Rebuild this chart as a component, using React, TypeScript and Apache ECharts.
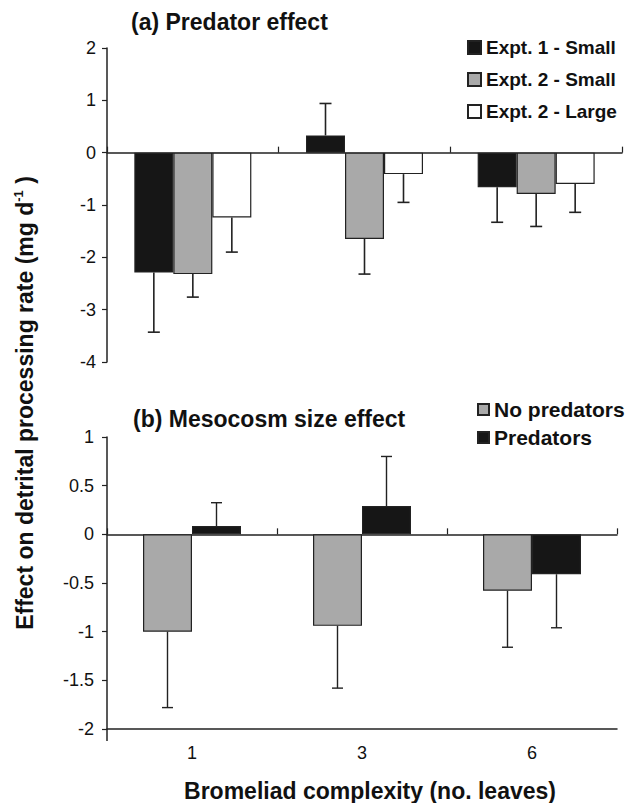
import React, { useEffect, useRef } from 'react';
import * as echarts from 'echarts';

const categories = ['1', '3', '6'];

// (a) Predator effect
const expt1Small = [-2.29, 0.33, -0.66];
const expt1SmallErr = [1.14, 0.61, 0.67];
const expt2Small = [-2.32, -1.65, -0.79];
const expt2SmallErr = [0.44, 0.67, 0.62];
const expt2Large = [-1.24, -0.41, -0.6];
const expt2LargeErr = [0.66, 0.54, 0.54];

// (b) Mesocosm size effect
const noPredators = [-1.0, -0.94, -0.58];
const noPredatorsErr = [0.78, 0.64, 0.58];
const predators = [0.085, 0.29, -0.41];
const predatorsErr = [0.24, 0.51, 0.55];

const topTicks = [-4, -3, -2, -1, 0, 1, 2];
const bottomTicks = [-2, -1.5, -1, -0.5, 0, 0.5, 1];

const FONT = '"Liberation Sans", Arial, Helvetica, sans-serif';
const BLACK = '#161616';
const GRAY = '#a9a9a9';
const WHITE = '#ffffff';
const EDGE = '#222222';

const TOP_BAR_W = 39;
const BOT_BAR_W = 49;

function errSeries(
  name: string,
  vals: number[],
  errs: number[],
  xAxisIndex: number,
  yAxisIndex: number,
  slot: number,
  nSlots: number,
  barW: number,
  lw: number,
  cap: number
) {
  return {
    type: 'custom',
    name,
    xAxisIndex,
    yAxisIndex,
    z: 5,
    silent: true,
    encode: { x: 0, y: 1 },
    data: vals.map((v, i) => [i, v, errs[i]]),
    renderItem: (params: any, api: any) => {
      const idx = api.value(0);
      const v = api.value(1);
      const e = api.value(2);
      const sign = v >= 0 ? 1 : -1;
      const p0 = api.coord([idx, v]);
      const p1 = api.coord([idx, v + sign * e]);
      const dx = (slot - (nSlots - 1) / 2) * barW;
      const x = p0[0] + dx;
      const style = { stroke: EDGE, lineWidth: lw };
      return {
        type: 'group',
        children: [
          { type: 'line', shape: { x1: x, y1: p0[1], x2: x, y2: p1[1] }, style },
          { type: 'line', shape: { x1: x - cap / 2, y1: p1[1], x2: x + cap / 2, y2: p1[1] }, style },
        ],
      };
    },
  };
}

export default function App() {
  const ref = useRef<HTMLDivElement>(null);

  useEffect(() => {
    if (!ref.current) return;
    const chart = echarts.init(ref.current, undefined, { renderer: 'svg' });

    const axisLine = { show: true, lineStyle: { color: EDGE, width: 1.5 } };
    const tickLabel = { color: '#111', fontSize: 18, fontFamily: FONT };

    const option: any = {
      animation: false,
      backgroundColor: '#ffffff',
      title: [
        {
          text: '(a) Predator effect',
          left: 131,
          top: 10,
          padding: 0,
          textStyle: { fontFamily: FONT, fontSize: 23, fontWeight: 'bold', color: '#111' },
        },
        {
          text: '(b) Mesocosm size effect',
          left: 133,
          top: 407,
          padding: 0,
          textStyle: { fontFamily: FONT, fontSize: 23, fontWeight: 'bold', color: '#111' },
        },
      ],
      legend: [
        {
          data: ['Expt. 1 - Small', 'Expt. 2 - Small', 'Expt. 2 - Large'],
          orient: 'vertical',
          left: 467,
          top: 38,
          padding: 0,
          itemWidth: 13,
          itemHeight: 13,
          itemGap: 13,
          icon: 'rect',
          textStyle: { fontFamily: FONT, fontSize: 19, fontWeight: 'bold', color: '#111' },
        },
        {
          data: ['No predators', 'Predators'],
          orient: 'vertical',
          left: 477,
          top: 399,
          padding: 0,
          itemWidth: 11,
          itemHeight: 11,
          itemGap: 7,
          icon: 'rect',
          textStyle: { fontFamily: FONT, fontSize: 21, fontWeight: 'bold', color: '#111' },
        },
      ],
      grid: [
        { left: 107, top: 48, width: 515, height: 314, outerBoundsMode: 'none', containLabel: false },
        { left: 107, top: 437, width: 510, height: 292, outerBoundsMode: 'none', containLabel: false },
      ],
      xAxis: [
        {
          type: 'category',
          gridIndex: 0,
          data: categories,
          axisLine: { ...axisLine, onZero: true },
          axisTick: { show: true, inside: true, length: 6, lineStyle: { color: EDGE, width: 1.2 } },
          axisLabel: { show: false },
          splitLine: { show: false },
        },
        {
          type: 'category',
          gridIndex: 1,
          data: categories,
          axisLine: { ...axisLine, onZero: true },
          axisTick: { show: true, inside: true, length: 6, lineStyle: { color: EDGE, width: 1.2 } },
          axisLabel: { show: false },
          splitLine: { show: false },
        },
        {
          type: 'category',
          gridIndex: 1,
          position: 'bottom',
          data: categories,
          axisLine: { ...axisLine, onZero: false },
          axisTick: { show: false },
          axisLabel: { ...tickLabel, margin: 15 },
          splitLine: { show: false },
          name: 'Bromeliad complexity (no. leaves)',
          nameLocation: 'middle',
          nameGap: 50,
          nameTextStyle: {
            fontFamily: FONT,
            fontSize: 23,
            fontWeight: 'bold',
            color: '#111',
            padding: [0, 0, 0, 16],
          },
        },
      ],
      yAxis: [
        {
          type: 'value',
          gridIndex: 0,
          min: -4,
          max: 2,
          interval: 1,
          axisLine: { ...axisLine, onZero: false },
          axisTick: { show: true, length: 5, lineStyle: { color: EDGE, width: 1.2 } },
          axisLabel: { ...tickLabel, margin: 11, formatter: (v: number) => (topTicks.includes(v) ? String(v) : '') },
          splitLine: { show: false },
        },
        {
          type: 'value',
          gridIndex: 1,
          min: -2,
          max: 1,
          interval: 0.5,
          axisLine: { ...axisLine, onZero: false },
          axisTick: { show: true, length: 5, lineStyle: { color: EDGE, width: 1.2 } },
          axisLabel: { ...tickLabel, margin: 13, formatter: (v: number) => (bottomTicks.includes(v) ? String(v) : '') },
          splitLine: { show: false },
        },
      ],
      graphic: [
        {
          type: 'text',
          x: 25,
          y: 403,
          rotation: Math.PI / 2,
          style: {
            text: '{a|Effect on detrital processing rate (mg d}{s|-1}{a| )}',
            align: 'center',
            verticalAlign: 'middle',
            rich: {
              a: { fontFamily: FONT, fontSize: 23, fontWeight: 'bold', fill: '#111' },
              s: { fontFamily: FONT, fontSize: 13, fontWeight: 'bold', fill: '#111', verticalAlign: 'top', lineHeight: 26 },
            },
          },
        },
        {
          type: 'line',
          shape: { x1: 107, y1: 729, x2: 107, y2: 741 },
          style: { stroke: EDGE, lineWidth: 1.5 },
        },
      ],
      series: [
        {
          type: 'bar',
          name: 'Expt. 1 - Small',
          xAxisIndex: 0,
          yAxisIndex: 0,
          data: expt1Small,
          barWidth: TOP_BAR_W,
          barGap: '0%',
          itemStyle: { color: BLACK, borderColor: EDGE, borderWidth: 1.2 },
        },
        {
          type: 'bar',
          name: 'Expt. 2 - Small',
          xAxisIndex: 0,
          yAxisIndex: 0,
          data: expt2Small,
          barWidth: TOP_BAR_W,
          barGap: '0%',
          itemStyle: { color: GRAY, borderColor: EDGE, borderWidth: 1.2 },
        },
        {
          type: 'bar',
          name: 'Expt. 2 - Large',
          xAxisIndex: 0,
          yAxisIndex: 0,
          data: expt2Large,
          barWidth: TOP_BAR_W,
          barGap: '0%',
          itemStyle: { color: WHITE, borderColor: EDGE, borderWidth: 1.2 },
        },
        {
          type: 'bar',
          name: 'No predators',
          xAxisIndex: 1,
          yAxisIndex: 1,
          data: noPredators,
          barWidth: BOT_BAR_W,
          barGap: '0%',
          itemStyle: { color: GRAY, borderColor: EDGE, borderWidth: 1.2 },
        },
        {
          type: 'bar',
          name: 'Predators',
          xAxisIndex: 1,
          yAxisIndex: 1,
          data: predators,
          barWidth: BOT_BAR_W,
          barGap: '0%',
          itemStyle: { color: BLACK, borderColor: EDGE, borderWidth: 1.2 },
        },
        errSeries('err1', expt1Small, expt1SmallErr, 0, 0, 0, 3, TOP_BAR_W, 1.6, 12),
        errSeries('err2', expt2Small, expt2SmallErr, 0, 0, 1, 3, TOP_BAR_W, 1.6, 12),
        errSeries('err3', expt2Large, expt2LargeErr, 0, 0, 2, 3, TOP_BAR_W, 1.6, 12),
        errSeries('err4', noPredators, noPredatorsErr, 1, 1, 0, 2, BOT_BAR_W, 1.4, 11),
        errSeries('err5', predators, predatorsErr, 1, 1, 1, 2, BOT_BAR_W, 1.4, 11),
      ],
    };

    chart.setOption(option);
    return () => chart.dispose();
  }, []);

  return (
    <div
      ref={ref}
      style={{ position: 'absolute', left: 0, top: 0, width: 626, height: 803 }}
    />
  );
}
